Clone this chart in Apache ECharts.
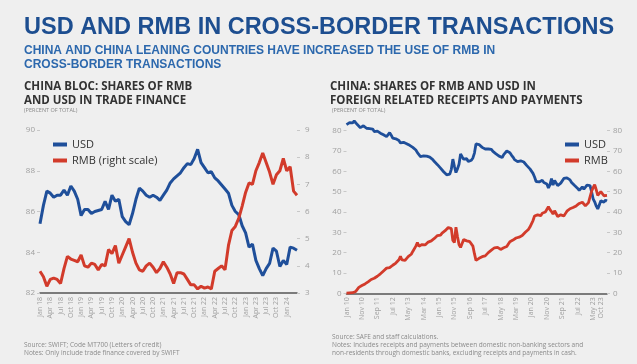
<!DOCTYPE html>
<html>
<head>
<meta charset="utf-8">
<script src="https://cdn.jsdelivr.net/npm/echarts@6/dist/echarts.min.js"></script>
<style>
  html, body { margin: 0; padding: 0; background: #efefef; }
  #chart { width: 637px; height: 364px; }
</style>
</head>
<body>
<div id="chart"></div>
<script>
// ---- Left panel: trade finance shares (monthly, Jan 2018 – Apr 2024) ----
const tradeUsd = [
  85.4, 86.3, 87.0, 86.9, 86.7, 86.8, 86.8, 87.05, 86.8, 87.25,
  87.0, 86.6, 85.8, 86.1, 86.1, 85.9, 86.0, 86.05, 86.1, 86.5,
  86.1, 86.8, 86.5, 86.6, 85.75, 85.5, 85.35, 85.9, 86.6, 87.15,
  87.0, 86.8, 86.7, 86.8, 86.7, 86.55, 86.8, 87.05, 87.4, 87.6,
  87.75, 87.9, 88.15, 88.35, 88.3, 88.6, 89.05, 88.4, 88.15, 87.9,
  87.95, 87.65, 87.5, 87.3, 87.1, 86.9, 86.3, 86.0, 85.85, 85.3,
  84.95, 84.25, 84.4, 83.6, 83.2, 82.85, 83.2, 83.45, 84.2, 84.05,
  83.3, 83.6, 83.4, 84.25, 84.2, 84.1
];
const tradeRmb = [
  3.8, 3.6, 3.25, 3.5, 3.55, 3.5, 3.35, 3.9, 4.35, 4.25,
  4.2, 4.15, 4.4, 4.0, 3.95, 4.1, 4.05, 3.85, 4.05, 4.0,
  4.6, 4.45, 4.75, 4.1, 4.4, 4.7, 5.0, 4.5, 4.1, 3.85,
  3.8, 4.0, 4.1, 3.95, 3.75, 3.9, 4.15, 3.95, 3.7, 3.35,
  3.75, 3.75, 3.7, 3.5, 3.3, 3.3, 3.15, 3.25, 3.18, 3.22,
  3.15, 3.8, 3.9, 4.0, 3.85, 4.75, 5.3, 5.45, 5.75, 6.2,
  6.7, 7.05, 7.0, 7.5, 7.8, 8.15, 7.8, 7.45, 7.0, 7.35,
  7.5, 7.95, 7.5, 7.65, 6.75, 6.6
];

// ---- Right panel: receipts and payments (monthly, Jan 2010 – Feb 2024) ----
const flowUsd = [
  83.0, 82.5, 84.0, 84.3, 83.8, 84.8, 84.5, 83.0, 82.6, 81.5,
  81.3, 82.4, 82.0, 81.2, 80.4, 81.0, 80.6, 80.8, 79.6, 80.1,
  79.8, 79.2, 78.8, 78.3, 78.0, 77.6, 77.1, 77.5, 79.0, 77.8,
  76.3, 76.8, 76.0, 76.5, 75.2, 74.0, 74.6, 74.3, 74.7, 73.6,
  73.3, 72.8, 73.0, 71.8, 71.5, 70.5, 69.2, 68.6, 67.3, 68.0,
  67.6, 68.2, 67.5, 68.0, 67.0, 66.6, 65.8, 64.8, 64.2, 63.3,
  62.8, 61.6, 61.0, 59.8, 59.2, 58.3, 57.5, 58.6, 61.0, 66.0,
  62.5, 59.4, 61.2, 63.5, 68.6, 67.2, 66.0, 65.5, 66.2, 64.8,
  64.4, 65.5, 66.6, 69.0, 73.5, 74.0, 73.2, 72.4, 71.8, 72.2,
  71.0, 70.6, 71.0, 70.2, 70.8, 69.8, 69.5, 68.6, 68.0, 67.5,
  67.2, 66.8, 68.2, 69.0, 70.0, 70.3, 69.2, 68.0, 67.0, 65.8,
  65.3, 64.8, 65.5, 65.2, 64.3, 64.6, 63.8, 62.8, 62.3, 61.2,
  60.8, 59.0, 57.2, 55.0, 54.3, 54.8, 54.2, 55.6, 54.5, 55.2,
  53.8, 51.8, 53.5, 56.4, 53.2, 55.5, 54.6, 53.0, 52.6, 54.2,
  55.0, 56.5, 57.2, 56.8, 56.0, 55.8, 54.5, 54.0, 53.0, 52.4,
  51.6, 50.6, 51.3, 52.4, 51.2, 51.8, 53.2, 54.0, 53.0, 50.0,
  46.5, 45.0, 43.0, 41.5, 43.5, 45.5, 45.0, 44.8, 45.8, 45.4
];
const flowRmb = [
  0.1, 0.0, 0.2, 0.1, 0.3, 0.5, 0.9, 1.8, 2.9, 3.4,
  3.8, 3.6, 4.6, 5.0, 5.6, 6.4, 6.8, 6.5, 7.4, 7.9,
  8.4, 8.9, 9.6, 10.4, 11.0, 11.8, 12.4, 13.2, 12.6, 12.9,
  13.8, 14.5, 14.9, 15.8, 16.5, 18.2, 16.4, 15.8, 16.2, 17.0,
  18.0, 18.6, 19.2, 20.6, 21.4, 23.2, 25.0, 23.2, 22.6, 24.0,
  24.6, 23.8, 24.4, 25.2, 24.8, 25.8, 26.2, 27.0, 27.4, 28.4,
  28.9, 28.6, 29.6, 30.4, 30.8, 31.6, 32.4, 33.0, 31.8, 26.0,
  25.0, 32.5, 28.0, 24.0, 22.6, 24.5, 26.4, 25.6, 25.8, 25.0,
  25.4, 24.6, 23.2, 19.5, 16.2, 15.8, 17.2, 17.6, 18.0, 18.6,
  18.4, 19.2, 20.0, 20.4, 21.2, 21.8, 22.4, 23.0, 22.6, 22.0,
  21.6, 21.4, 22.4, 23.2, 23.0, 24.2, 25.4, 26.0, 26.2, 26.8,
  27.2, 26.8, 27.6, 28.2, 28.4, 29.2, 30.0, 30.6, 31.4, 32.6,
  33.4, 35.8, 38.0, 38.8, 38.6, 39.0, 38.2, 39.4, 38.8, 40.0,
  39.6, 42.6, 41.2, 40.2, 39.0, 40.6, 40.0, 37.8, 37.2, 38.6,
  38.4, 38.0, 39.2, 40.4, 41.0, 41.6, 41.4, 42.2, 42.8, 43.0,
  43.8, 44.2, 43.6, 44.8, 44.0, 43.0, 42.2, 44.6, 47.5, 50.2,
  52.0, 53.5, 51.0, 48.2, 49.0, 50.0, 49.2, 48.0, 48.6, 48.2
];

const MONTHS = ['Jan','Feb','Mar','Apr','May','Jun','Jul','Aug','Sep','Oct','Nov','Dec'];
function monthLabels(startYear, count) {
  const out = [];
  for (let i = 0; i < count; i++) {
    const y = startYear + Math.floor(i / 12);
    out.push(MONTHS[i % 12] + ' ' + String(y % 100).padStart(2, '0'));
  }
  return out;
}
const tradeMonths = monthLabels(2018, tradeUsd.length);
const flowMonths = monthLabels(2010, flowUsd.length);

const BLUE = '#1f4f9a';
const RED = '#d23b2b';
const FONT = '"Open Sans", "Liberation Sans", sans-serif';
const TICK_GREY = '#a0a0a0';

function xAxisFor(gridIndex, data, showIdx) {
  return {
    type: 'category', gridIndex, data, boundaryGap: false,
    axisLine: { lineStyle: { color: '#555', width: 1.5 } },
    axisTick: { show: false },
    axisLabel: {
      rotate: 90, fontSize: 7, color: TICK_GREY, fontFamily: FONT, margin: 4,
      interval: (idx) => showIdx(idx)
    },
    splitLine: { show: false }
  };
}
function yAxisFor(gridIndex, min, max, interval, position, margin) {
  return {
    type: 'value', gridIndex, min, max, interval, position,
    axisLine: { show: false },
    axisTick: { show: true, length: 3, lineStyle: { color: '#c8c8c8' } },
    axisLabel: { fontSize: 8, color: TICK_GREY, fontFamily: FONT, margin },
    splitLine: { show: false }
  };
}

const chart = echarts.init(document.getElementById('chart'), null, { renderer: 'canvas' });
chart.setOption({
  backgroundColor: '#efefef',
  animation: false,
  textStyle: { fontFamily: FONT },
  graphic: [
    { type: 'text', left: 24, top: 16, style: { text: 'USD AND RMB IN CROSS-BORDER TRANSACTIONS', fill: '#1d4e90', font: '900 23.5px "Liberation Sans", Arial, sans-serif' } },
    { type: 'text', left: 24, top: 44, style: { text: 'CHINA AND CHINA LEANING COUNTRIES HAVE INCREASED THE USE OF RMB IN\nCROSS-BORDER TRANSACTIONS', fill: '#2c68ad', font: 'bold 12px "Liberation Sans", Arial, sans-serif', lineHeight: 14 } },
    { type: 'text', left: 24, top: 80, style: { text: 'CHINA BLOC: SHARES OF RMB\nAND USD IN TRADE FINANCE', fill: '#333333', font: 'bold 11.5px "Open Sans", sans-serif', lineHeight: 14 } },
    { type: 'text', left: 24, top: 107, style: { text: '(PERCENT OF TOTAL)', fill: '#8a8a8a', font: '5.5px "Open Sans", sans-serif' } },
    { type: 'text', left: 330, top: 80, style: { text: 'CHINA: SHARES OF RMB AND USD IN\nFOREIGN RELATED RECEIPTS AND PAYMENTS', fill: '#333333', font: 'bold 11.5px "Open Sans", sans-serif', lineHeight: 14 } },
    { type: 'text', left: 332, top: 107, style: { text: '(PERCENT OF TOTAL)', fill: '#8a8a8a', font: '5.5px "Open Sans", sans-serif' } },
    { type: 'text', left: 24, top: 341, style: { text: 'Source: SWIFT; Code MT700 (Letters of credit)\nNotes: Only include trade finance covered by SWIFT', fill: '#8a8a8a', font: '6.5px "Open Sans", sans-serif', lineHeight: 8 } },
    { type: 'text', left: 332, top: 333, style: { text: 'Source: SAFE and staff calculations.\nNotes: Includes receipts and payments between domestic non-banking sectors and\nnon-residents through domestic banks, excluding receipts and payments in cash.', fill: '#8a8a8a', font: '6.5px "Open Sans", sans-serif', lineHeight: 8 } }
  ],
  legend: [
    {
      left: 48, top: 134, orient: 'vertical', itemGap: 5,
      itemWidth: 14, itemHeight: 4, icon: 'rect',
      textStyle: { fontSize: 11, color: '#333', fontFamily: FONT },
      data: ['USD', 'RMB (right scale)']
    },
    {
      left: 560, top: 134, orient: 'vertical', itemGap: 5,
      itemWidth: 14, itemHeight: 4, icon: 'rect',
      textStyle: { fontSize: 11, color: '#333', fontFamily: FONT },
      data: ['USD', 'RMB']
    }
  ],
  grid: [
    { left: 40, right: 340, top: 130, bottom: 71 },
    { left: 346.5, right: 30, top: 130.7, bottom: 70.7 }
  ],
  xAxis: [
    xAxisFor(0, tradeMonths, (i) => i % 3 === 0 && i <= 72),
    xAxisFor(1, flowMonths, (i) => i % 10 === 0 || i === 165)
  ],
  yAxis: [
    yAxisFor(0, 82, 90, 2, 'left', 5),
    yAxisFor(0, 3, 9, 1, 'right', 8),
    yAxisFor(1, 0, 80, 10, 'left', 5),
    yAxisFor(1, 0, 80, 10, 'right', 6)
  ],
  series: [
    { name: 'USD', type: 'line', xAxisIndex: 0, yAxisIndex: 0, data: tradeUsd, symbol: 'none', clip: false, lineStyle: { color: BLUE, width: 3 }, itemStyle: { color: BLUE } },
    { name: 'RMB (right scale)', type: 'line', xAxisIndex: 0, yAxisIndex: 1, data: tradeRmb, symbol: 'none', clip: false, lineStyle: { color: RED, width: 3 }, itemStyle: { color: RED } },
    { name: 'USD', type: 'line', xAxisIndex: 1, yAxisIndex: 2, data: flowUsd, symbol: 'none', clip: false, lineStyle: { color: BLUE, width: 2.8 }, itemStyle: { color: BLUE } },
    { name: 'RMB', type: 'line', xAxisIndex: 1, yAxisIndex: 3, data: flowRmb, symbol: 'none', clip: false, lineStyle: { color: RED, width: 2.8 }, itemStyle: { color: RED }, z: 3 }
  ]
});
</script>
</body>
</html>
